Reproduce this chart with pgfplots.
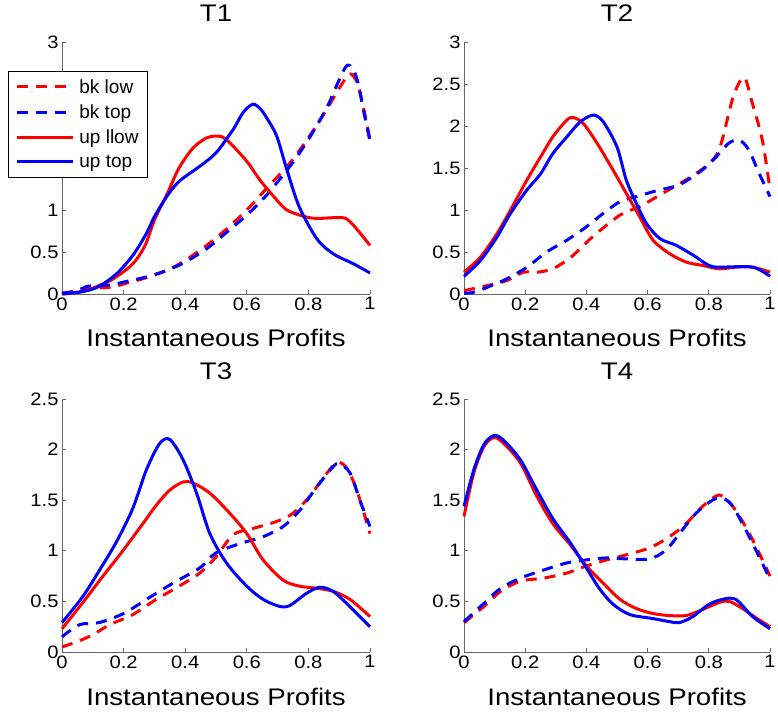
\documentclass[border=0pt]{standalone}
\usepackage{fontspec}
\setmainfont{Liberation Sans}
\newfontfamily\lblfont[FakeStretch=1.15]{Liberation Sans}
\newfontfamily\tickfont[FakeStretch=1.12]{Liberation Sans}
\usepackage{pgfplots}
\pgfplotsset{compat=1.18}

\pgfplotsset{
  mplot/.style={
    scale only axis, anchor=south west,
    xmin=0, xmax=1, ymin=0,
    axis x line=bottom, axis y line=left,
    axis line style={-, draw=black!60, line width=0.8pt},
    tick align=inside, major tick length=4pt,
    every tick/.style={black!60, line width=0.8pt},
    xtick={0,0.2,0.4,0.6,0.8,1},
    ticklabel style={font=\tickfont\fontsize{18}{18}\selectfont},
    /pgf/number format/assume math mode=true,
    title style={at={(axis description cs:0.5,1)}, anchor=base, yshift=14pt,
      font=\lblfont\fontsize{24}{24}\selectfont},
    xlabel style={at={(axis description cs:0.5,0)}, anchor=base, yshift=-53pt,
      font=\lblfont\fontsize{24}{24}\selectfont},
    xlabel={Instantaneous Profits},
    clip=false,
    every axis plot/.append style={line width=3pt, smooth, line join=round},
  },
  bk/.style={dash pattern=on 11pt off 8pt},
}

\begin{document}
\begin{tikzpicture}
\useasboundingbox (0,0) rectangle (778pt,715pt);

% T1
\begin{axis}[mplot, at={(62pt,421pt)}, width=308pt, height=252pt,
  ymax=3, ytick={0,0.5,1,1.5,2,2.5,3}, title={T1},
  legend style={at={(axis description cs:-0.175,0.885)}, anchor=north west,
    draw=black, line width=0.6pt, fill=white, font=\fontsize{19}{19}\selectfont,
    row sep=6pt, inner ysep=6pt, inner xsep=7pt,
    /tikz/every odd column/.append style={column sep=3pt}},
  legend cell align=left,
  legend image code/.code={\draw[#1] (0pt,0pt) -- (56pt,0pt);}]
\addplot[red, bk] coordinates {(0,0.01)(0.05,0.03)(0.1,0.07)(0.16,0.08)(0.21,0.13)(0.27,0.19)(0.34,0.28)(0.4,0.4)(0.47,0.58)(0.53,0.76)(0.6,1.0)(0.66,1.24)(0.74,1.56)(0.8,1.86)(0.86,2.2)(0.9,2.45)(0.935,2.62)(0.96,2.5)(0.98,2.2)(1.0,1.84)};
\addplot[blue, bk] coordinates {(0,0.01)(0.05,0.04)(0.08,0.09)(0.12,0.1)(0.16,0.11)(0.21,0.15)(0.27,0.2)(0.34,0.28)(0.4,0.38)(0.47,0.54)(0.53,0.72)(0.6,0.94)(0.66,1.16)(0.74,1.52)(0.8,1.84)(0.86,2.22)(0.9,2.55)(0.925,2.72)(0.945,2.68)(0.962,2.5)(0.978,2.2)(1.0,1.82)};
\addplot[red] coordinates {(0,0.0)(0.05,0.02)(0.1,0.07)(0.166,0.18)(0.23,0.36)(0.27,0.58)(0.3,0.88)(0.34,1.18)(0.38,1.5)(0.426,1.74)(0.47,1.86)(0.5,1.88)(0.52,1.87)(0.545,1.8)(0.6,1.58)(0.642,1.36)(0.69,1.15)(0.73,1.0)(0.79,0.92)(0.83,0.9)(0.91,0.91)(0.935,0.86)(0.96,0.76)(1.0,0.58)};
\addplot[blue] coordinates {(0,0.0)(0.07,0.03)(0.12,0.09)(0.177,0.24)(0.23,0.46)(0.274,0.72)(0.3,0.92)(0.34,1.16)(0.38,1.34)(0.447,1.52)(0.5,1.68)(0.556,1.96)(0.588,2.16)(0.62,2.26)(0.645,2.2)(0.664,2.1)(0.697,1.88)(0.73,1.48)(0.77,1.04)(0.827,0.66)(0.88,0.48)(0.946,0.36)(1.0,0.25)};
\legend{bk low, bk top, up llow, up top}
\end{axis}

% T2
\begin{axis}[mplot, at={(464pt,421pt)}, width=306pt, height=252pt,
  ymax=3, ytick={0,0.5,1,1.5,2,2.5,3}, title={T2}]
\addplot[red, bk] coordinates {(0,0.04)(0.076,0.1)(0.14,0.16)(0.195,0.26)(0.24,0.26)(0.29,0.3)(0.35,0.44)(0.42,0.68)(0.51,0.94)(0.574,1.04)(0.65,1.2)(0.726,1.36)(0.79,1.52)(0.834,1.72)(0.88,2.35)(0.915,2.58)(0.94,2.3)(0.975,1.83)(1.0,1.24)};
\addplot[blue, bk] coordinates {(0,0.01)(0.03,0.02)(0.076,0.08)(0.14,0.18)(0.206,0.32)(0.27,0.5)(0.336,0.64)(0.4,0.8)(0.455,0.96)(0.51,1.1)(0.563,1.16)(0.64,1.24)(0.704,1.3)(0.78,1.48)(0.823,1.63)(0.867,1.8)(0.9,1.83)(0.93,1.72)(0.964,1.44)(1.0,1.16)};
\addplot[red] coordinates {(0,0.26)(0.054,0.44)(0.108,0.72)(0.152,1.0)(0.206,1.36)(0.25,1.63)(0.29,1.87)(0.336,2.07)(0.358,2.1)(0.39,2.03)(0.434,1.8)(0.488,1.47)(0.53,1.2)(0.574,0.92)(0.618,0.64)(0.672,0.48)(0.726,0.38)(0.78,0.34)(0.834,0.3)(0.89,0.32)(0.943,0.32)(1.0,0.26)};
\addplot[blue] coordinates {(0,0.21)(0.054,0.4)(0.108,0.68)(0.152,0.96)(0.206,1.24)(0.25,1.43)(0.29,1.67)(0.336,1.87)(0.38,2.05)(0.423,2.13)(0.455,2.05)(0.5,1.75)(0.53,1.36)(0.563,1.08)(0.596,0.84)(0.64,0.66)(0.693,0.58)(0.75,0.46)(0.8,0.34)(0.834,0.32)(0.943,0.32)(1.0,0.21)};
\end{axis}

% T3
\begin{axis}[mplot, at={(62pt,63pt)}, width=308pt, height=253pt,
  ymax=2.5, ytick={0,0.5,1,1.5,2,2.5}, title={T3}]
\addplot[red, bk] coordinates {(0,0.05)(0.047,0.1)(0.1,0.17)(0.155,0.27)(0.23,0.37)(0.306,0.52)(0.38,0.65)(0.447,0.78)(0.5,0.94)(0.556,1.16)(0.62,1.22)(0.697,1.29)(0.75,1.37)(0.805,1.54)(0.848,1.72)(0.892,1.87)(0.924,1.82)(0.957,1.6)(1.0,1.17)};
\addplot[blue, bk] coordinates {(0,0.15)(0.057,0.27)(0.12,0.29)(0.2,0.38)(0.274,0.52)(0.36,0.68)(0.447,0.83)(0.5,0.98)(0.577,1.07)(0.653,1.14)(0.718,1.24)(0.772,1.4)(0.827,1.63)(0.88,1.83)(0.9,1.86)(0.935,1.77)(0.967,1.5)(1.0,1.24)};
\addplot[red] coordinates {(0,0.23)(0.068,0.49)(0.133,0.75)(0.2,1.01)(0.263,1.27)(0.306,1.45)(0.35,1.6)(0.393,1.68)(0.425,1.67)(0.48,1.57)(0.545,1.37)(0.6,1.17)(0.653,0.91)(0.718,0.71)(0.772,0.65)(0.827,0.63)(0.88,0.6)(0.935,0.52)(1.0,0.35)};
\addplot[blue] coordinates {(0,0.29)(0.068,0.55)(0.122,0.81)(0.177,1.09)(0.23,1.42)(0.274,1.8)(0.317,2.06)(0.35,2.1)(0.393,1.9)(0.437,1.57)(0.48,1.17)(0.534,0.88)(0.6,0.65)(0.653,0.52)(0.707,0.45)(0.74,0.46)(0.794,0.58)(0.837,0.64)(0.88,0.6)(0.924,0.48)(0.967,0.35)(1.0,0.25)};
\end{axis}

% T4
\begin{axis}[mplot, at={(464pt,63pt)}, width=306pt, height=253pt,
  ymax=2.5, ytick={0,0.5,1,1.5,2,2.5}, title={T4}]
\addplot[red, bk] coordinates {(0,0.29)(0.065,0.45)(0.12,0.6)(0.184,0.7)(0.26,0.73)(0.336,0.78)(0.4,0.85)(0.466,0.91)(0.53,0.96)(0.607,1.03)(0.672,1.14)(0.726,1.27)(0.78,1.44)(0.823,1.54)(0.845,1.54)(0.888,1.4)(0.943,1.11)(1.0,0.75)};
\addplot[blue, bk] coordinates {(0,0.3)(0.065,0.48)(0.12,0.63)(0.184,0.73)(0.26,0.81)(0.336,0.88)(0.4,0.91)(0.466,0.93)(0.53,0.92)(0.607,0.92)(0.661,1.01)(0.704,1.17)(0.758,1.37)(0.812,1.5)(0.845,1.52)(0.878,1.44)(0.932,1.14)(1.0,0.72)};
\addplot[red] coordinates {(0,1.34)(0.032,1.77)(0.065,2.03)(0.098,2.12)(0.13,2.06)(0.184,1.87)(0.238,1.54)(0.29,1.27)(0.347,1.06)(0.4,0.85)(0.455,0.68)(0.51,0.52)(0.563,0.43)(0.618,0.38)(0.672,0.36)(0.726,0.36)(0.78,0.42)(0.834,0.49)(0.867,0.5)(0.91,0.43)(0.953,0.34)(1.0,0.25)};
\addplot[blue] coordinates {(0,1.44)(0.032,1.8)(0.065,2.05)(0.098,2.14)(0.13,2.09)(0.184,1.9)(0.238,1.6)(0.29,1.32)(0.347,1.08)(0.4,0.83)(0.444,0.62)(0.488,0.47)(0.542,0.37)(0.618,0.33)(0.672,0.3)(0.704,0.29)(0.748,0.35)(0.8,0.47)(0.845,0.52)(0.888,0.52)(0.943,0.35)(1.0,0.23)};
\end{axis}
\end{tikzpicture}
\end{document}
